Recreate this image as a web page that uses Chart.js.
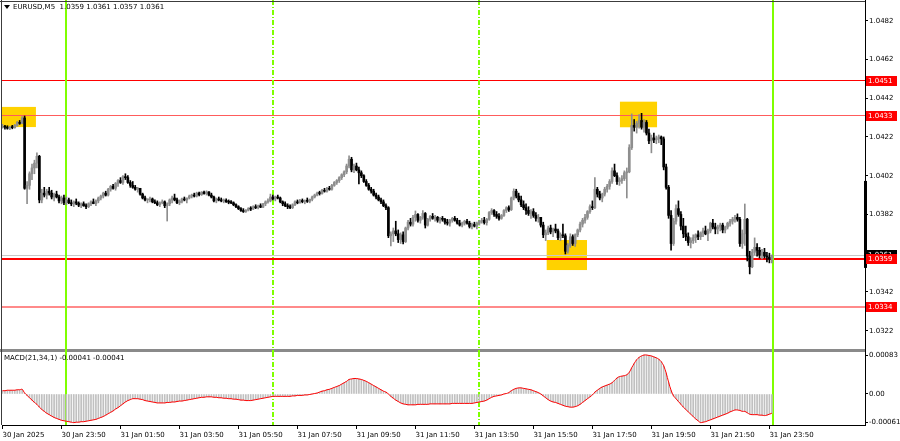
<!DOCTYPE html>
<html>
<head>
<meta charset="utf-8">
<script src="https://cdn.jsdelivr.net/npm/chart.js@4.4.1/dist/chart.umd.min.js"></script>
<style>
    body { margin: 0; background: #fff; }
    #wrap { position: relative; width: 900px; height: 441px; overflow: hidden; background: #fff; }
    #wrap canvas { position: absolute; left: 0; }
</style>
</head>
<body>
<div id="wrap">
    <canvas id="priceChart" width="900" height="352" style="top:0"></canvas>
    <canvas id="macdChart" width="900" height="97" style="top:344px"></canvas>
</div>
<script>
// ── Data (EURUSD M5, prices in pips above 1.0300) ─────────────────────────────

const firstOpen = 127;
const highs = [
    128.5, 128, 127.8, 127.5, 128, 128.5, 130, 130.5, 132.5, 132.8, 99, 104, 108, 110, 113.8, 112.5, 95, 96, 95, 96,
    94.5, 93, 94, 92, 91.5, 92, 91, 90.5, 89.5, 89, 90, 88.5, 88, 88.5, 87.5, 88, 89, 90, 89.5, 91,
    92, 93.5, 94, 95.5, 97, 97.5, 98.5, 100, 101, 102, 103, 102, 99.5, 99, 97, 96, 95.5, 93, 91.5, 90,
    91, 90.5, 89.5, 89, 88.5, 89.5, 89, 88, 90, 91.5, 92.5, 90.5, 89.5, 90.5, 91, 90.5, 92, 92.5, 93, 93.5,
    93.5, 93.8, 94, 94.2, 93.8, 93, 91.5, 90.5, 91, 90.5, 90, 90, 89.5, 89.2, 88.5, 87.5, 86.5, 85.5, 85, 84.5,
    85.5, 86, 86.5, 87, 86.8, 87.5, 87.8, 89, 90, 92.5, 92, 91.5, 92, 91, 89, 88.5, 87.5, 87, 87.5, 89,
    89.5, 89.8, 90, 89.5, 90.5, 90, 91.5, 92.5, 93.5, 94, 95, 95.5, 96, 96.5, 97.5, 99, 100, 101.5, 103, 104.5,
    108, 112.2, 111.5, 108, 108.5, 106.5, 104.5, 102.5, 100, 98, 96, 95, 93, 92, 90.5, 89.5, 87.5, 86, 73, 75,
    78.5, 74, 72.5, 73, 75.5, 79, 80, 81.5, 83.8, 82.5, 81, 84, 83, 80, 81.5, 82.5, 81.5, 81, 80.5, 81,
    80, 79.5, 79.5, 80.5, 81, 80, 79, 78, 79, 79.5, 78.5, 77.5, 78, 78, 79, 80, 80.5, 80, 83.5, 85,
    84.5, 83.5, 82.5, 82, 84.5, 86, 86.5, 91, 95.2, 95, 93, 91.5, 89, 87.5, 86, 84.5, 85, 83, 82, 80.5,
    78, 74, 76, 76.5, 75, 77, 74.5, 72.5, 77, 72, 67, 72, 71.5, 72, 74.5, 78, 80, 82, 84, 87,
    89, 101, 96, 94, 93, 96, 97.5, 100, 106, 108, 103.5, 101, 102, 104.5, 106, 118, 133.9, 131, 130, 133.5,
    134.2, 131, 130.5, 126, 123, 124, 122.5, 123, 122.5, 122, 108, 97, 84, 80, 87, 89, 83.5, 80, 76, 72.5,
    70, 71.5, 72, 73.5, 73, 75, 76, 74.5, 78, 79.5, 77.5, 76.5, 77.5, 77.5, 76, 78, 79.5, 80.5, 81.5, 82.3,
    80.5, 74, 87.4, 80, 63, 64, 69.9, 67, 65, 64, 64.5, 62.5, 62, 61,
];
const lows = [
    126.5, 126, 126, 125.8, 126.2, 126.5, 127.5, 128.5, 128.8, 95, 87.5, 95, 100, 103, 106, 88, 88, 91, 90, 92,
    90, 89, 90.5, 88, 87.5, 87, 87, 87.5, 86.5, 86, 87, 86, 85.5, 86.2, 85, 85.5, 86.5, 87.5, 86.5, 88,
    89.5, 90.5, 91.5, 91.5, 94, 95, 94.5, 96.5, 98, 97.5, 100, 98, 96, 95.5, 94.5, 93.5, 92, 90, 89, 88,
    88.5, 88, 87.5, 86.5, 86, 87.5, 85.5, 78.6, 86.5, 88, 89, 87.5, 87, 88, 89, 88, 90, 90.5, 91, 91,
    91.5, 91.8, 92.5, 92, 91.5, 90.5, 88.5, 88, 89, 88.5, 88, 88.2, 87.5, 87.5, 86.5, 85.5, 84.5, 83.5, 83, 83,
    83.8, 84, 84.5, 85, 84.8, 85.5, 85.5, 86.5, 87.8, 88.5, 89.5, 89, 90, 88, 86.5, 86, 85, 85, 85, 86.5,
    87.5, 87.8, 88, 87.5, 88.2, 88, 89, 90.5, 91.5, 92, 92.5, 93.5, 93.5, 94.5, 94.5, 96.5, 97.5, 98.5, 100, 101.5,
    103, 106, 104, 103.5, 104.5, 97.8, 101, 98.5, 96.5, 94.5, 93, 91.5, 90, 89, 87.5, 86, 84.5, 70, 65.7, 68,
    71, 67.5, 67, 66.8, 67.5, 74, 76, 76, 78.5, 78, 77.5, 79.5, 75, 76, 78.5, 79.5, 78.5, 78, 77.5, 78.5,
    77, 76.5, 76, 78, 78.5, 77, 76, 75.5, 76.5, 77, 75, 74.5, 75.5, 74.5, 76.5, 77.5, 77, 76.5, 79, 82,
    81, 80, 79, 79.5, 81, 83, 83.5, 84, 89.5, 90.5, 88.5, 86, 84.5, 82, 81.5, 80, 80.5, 78.5, 78, 75.5,
    70, 68.5, 71.5, 72, 70.5, 72.5, 69, 68.5, 70, 61.6, 62, 65, 66, 65.5, 70.5, 73, 75.5, 77.5, 79.5, 82.5,
    84.5, 85, 91, 89.5, 88.5, 91.5, 93.5, 95, 98, 101.5, 97.5, 97, 98, 99.5, 90.5, 103.5, 115.5, 125, 124, 126.5,
    126, 124.5, 123, 118.5, 113.8, 119, 118.5, 119, 118, 105, 95, 80, 63.5, 66, 77, 81, 74, 70, 68.5, 66,
    64.7, 67, 67.5, 69, 69, 70.5, 71.5, 68.5, 72.5, 74.5, 72, 72, 73.5, 72.5, 72.5, 74.5, 76, 77, 78, 78.5,
    65.5, 64.5, 66, 58, 51.3, 54.5, 61, 60.5, 59.5, 59, 59.5, 57.5, 57, 57,
];
const closes = [
    127.5, 127, 126.5, 127, 126.8, 128, 129.5, 129, 131.8, 95.5, 97, 103, 106, 108.5, 112, 89.5, 93, 92, 94, 93,
    91, 92.5, 91, 89, 90.5, 88, 89.5, 88, 87.5, 88.5, 87.8, 86.8, 87.5, 86.5, 86, 87.5, 88.5, 87.6, 89, 90.5,
    91.5, 93, 92, 95, 96.5, 95.5, 98, 99.5, 98.5, 101.5, 101, 98.5, 97, 96, 95, 95.5, 92.5, 90.5, 89.5, 89.5,
    90, 88.5, 88, 87, 88, 88.5, 86.5, 87.5, 89.5, 90.5, 89.5, 88, 88.8, 90, 89.5, 90.5, 91.5, 92, 91.5, 93,
    92.2, 93.5, 92.8, 93.6, 92, 91, 89, 90, 89.5, 89, 89.3, 88.5, 88.3, 88, 87, 86, 85, 84, 83.5, 84.2,
    85, 84.8, 86, 85.5, 86.5, 85.8, 87.5, 88.5, 89, 91, 90, 91, 90.5, 88.5, 87.5, 86.5, 86, 85.5, 87, 88.5,
    88, 89.2, 88.6, 89, 88.8, 89.8, 91, 92, 93, 92.8, 94.5, 94, 95.5, 95, 97, 98.5, 99.5, 101, 102.5, 104,
    107, 110.5, 105, 107, 105, 103.5, 102, 99, 97, 95, 94, 92, 91, 89.5, 88.5, 86.5, 85.5, 71, 72, 73.5,
    72, 69, 71.5, 68, 75, 78, 77, 80.5, 82, 79, 80.5, 82.5, 76.5, 79.5, 81, 80, 80.5, 79, 80, 79.5,
    78, 77.5, 79, 80, 79, 77.5, 76.5, 77.5, 78.5, 77.5, 75.8, 76.8, 76, 77.5, 78.5, 79, 77.8, 79.5, 83, 84,
    82, 81, 80, 81.5, 84, 85.5, 84.5, 90.5, 94, 91.5, 89.5, 87, 85.5, 84, 82.5, 83.5, 81.5, 80, 80.5, 76.5,
    71.5, 72.5, 75, 73, 74.5, 73.5, 70, 71.5, 71, 63, 66, 70.5, 67, 71.5, 74, 77, 79, 80.5, 83.5, 86,
    85.5, 95, 92.5, 90.5, 92.5, 95, 96.5, 99, 104.5, 102, 99, 99.5, 100.5, 103.5, 104, 116.5, 128, 127, 129, 130.5,
    127, 129.5, 124, 120, 121.5, 120.5, 121, 122, 121, 106.5, 96, 81.5, 67, 78.5, 85, 82, 76, 72, 70.5, 67.5,
    68.5, 70, 71.5, 70.5, 72.5, 73.5, 72, 73.5, 77.5, 75.5, 74.5, 75.5, 76.5, 74, 75.5, 77.5, 78.5, 79.5, 80.5, 79.5,
    67, 72, 79.5, 60.5, 55, 62.5, 65, 63.5, 61, 62.5, 60.5, 60, 59, 61,
];

// MACD(21,34,1) in units of 0.00001
const macdValues = [
    7, 7, 8, 8, 8, 8, 9, 9, 10, 2, -3, -8, -13, -18, -22, -28, -33, -37, -41, -44,
    -47, -50, -52, -54, -56, -57, -58, -59, -60, -61, -60, -60, -59, -59, -58, -57, -56, -55, -54, -52,
    -50, -48, -45, -42, -39, -36, -32, -29, -25, -21, -17, -14, -12, -10, -10, -10, -11, -12, -14, -15,
    -16, -17, -18, -19, -19, -19, -19, -18, -18, -17, -17, -16, -15, -15, -14, -13, -12, -11, -10, -9,
    -8, -7, -7, -6, -6, -6, -7, -7, -8, -8, -9, -9, -10, -10, -11, -11, -12, -13, -13, -14,
    -14, -14, -13, -12, -11, -10, -9, -8, -7, -6, -5, -5, -5, -5, -5, -5, -5, -5, -4, -4,
    -3, -3, -3, -2, -2, -1, 0, 1, 2, 4, 6, 7, 9, 10, 12, 14, 16, 18, 21, 24,
    27, 31, 32, 33, 33, 32, 31, 29, 27, 24, 21, 18, 15, 12, 9, 6, 4, 0, -5, -9,
    -13, -16, -19, -21, -22, -23, -23, -23, -23, -22, -22, -22, -22, -22, -21, -21, -21, -21, -21, -21,
    -21, -21, -21, -20, -20, -20, -20, -20, -20, -20, -20, -20, -19, -18, -17, -16, -15, -13, -10, -7,
    -5, -4, -3, -2, 0, 1, 3, 7, 10, 12, 13, 13, 12, 11, 10, 9, 7, 5, 3, 0,
    -4, -8, -12, -15, -17, -18, -20, -22, -24, -26, -27, -28, -28, -27, -25, -22, -18, -14, -10, -6,
    -2, 4, 8, 12, 15, 17, 19, 21, 24, 29, 34, 37, 38, 39, 41, 46, 56, 65, 73, 78,
    81, 83, 83, 82, 81, 79, 77, 74, 69, 60, 45, 25, 8, -4, -10, -16, -22, -28, -33, -38,
    -43, -48, -53, -57, -61, -60, -59, -57, -55, -53, -51, -49, -47, -45, -43, -41, -38, -36, -34, -34,
    -35, -37, -37, -40, -43, -44, -44, -44, -45, -45, -46, -45, -43, -41,
];

const tickBars = [0, 24, 48, 72, 96, 120, 144, 168, 192, 216, 240, 264, 288, 312];
const tickLabels = [
    '30 Jan 2025', '30 Jan 23:50', '31 Jan 01:50', '31 Jan 03:50', '31 Jan 05:50', '31 Jan 07:50', '31 Jan 09:50',
    '31 Jan 11:50', '31 Jan 13:50', '31 Jan 15:50', '31 Jan 17:50', '31 Jan 19:50', '31 Jan 21:50', '31 Jan 23:50',
];
const priceTicks = [1.0322, 1.0342, 1.0382, 1.0402, 1.0422, 1.0442, 1.0462, 1.0482];
const macdTicks = [83, 0, -61];

const levels = [1.0451, 1.0433, 1.0359, 1.0334];
const sessionBars = [26, 110, 194, 313.4];
const sessionDashed = [false, true, true, false];

const zoneStart = [-0.2, 251.2, 221.4];
const zoneEnd = [13.6, 266.3, 237.8];
const zoneHigh = [1.04375, 1.04402, 1.03688];
const zoneLow = [1.04271, 1.04270, 1.03533];

const rangeMark = [1.03544, 1.03993];

// ── Helpers ───────────────────────────────────────────────────────────────────

const px = (v) => 1.03 + v / 10000;
const opens = closes.map((c, i) => (i === 0 ? firstOpen : closes[i - 1]));
const lastBar = closes.length - 1;

const UP_COLOR = '#8e8e8e';
const DOWN_COLOR = '#000000';
const SESSION_COLOR = '#7fff00';
const FONT = { family: 'DejaVu Sans', size: 7 };
const FONT_CSS = '7px "DejaVu Sans"';
const X_MIN = -0.2;
const X_MAX = 350.9;
const MACD_TOP = 8; // macd canvas overlaps the separator by this much

const levelStyles = [
    { color: '#ff0000', width: 1 },
    { color: '#ff5c5c', width: 1 },
    { color: '#ff0000', width: 2 },
    { color: '#ff8a8a', width: 2 },
];

function noPad(scale) {
    scale.paddingTop = 0;
    scale.paddingBottom = 0;
    scale.paddingLeft = 0;
    scale.paddingRight = 0;
}

function drawSessionLines(chart, yTop, yBottom) {
    const { ctx, scales: { x } } = chart;
    ctx.save();
    ctx.fillStyle = SESSION_COLOR;
    sessionBars.forEach((b, i) => {
        const xp = Math.round(x.getPixelForValue(b)) - 1;
        if (!sessionDashed[i]) {
            ctx.fillRect(xp, yTop, 2, yBottom - yTop);
            return;
        }
        // dash-dot pattern
        for (let yy = yTop; yy < yBottom; yy += 10) {
            ctx.fillRect(xp, yy, 2, Math.min(5, yBottom - yy));
            if (yy + 7 < yBottom) ctx.fillRect(xp, yy + 7, 2, 1);
        }
    });
    ctx.restore();
}

function priceTag(ctx, right, yPix, text, bg) {
    const yc = Math.round(yPix);
    ctx.fillStyle = bg;
    ctx.fillRect(right + 1, yc - 5, 31, 10);
    ctx.fillStyle = '#ffffff';
    ctx.textBaseline = 'middle';
    ctx.textAlign = 'left';
    ctx.fillText(text, right + 3, yc);
}

// ── Price pane overlay ────────────────────────────────────────────────────────

const priceOverlay = {
    id: 'priceOverlay',
    beforeDatasetsDraw(chart) {
        const { ctx, chartArea: a, scales: { x, y } } = chart;
        ctx.save();

        // separator to MACD pane
        ctx.fillStyle = '#8a8a8a';
        ctx.fillRect(0, 349, a.right, 3);

        // highlighted zones
        ctx.fillStyle = '#ffd200';
        zoneStart.forEach((s, i) => {
            const x0 = Math.max(a.left, x.getPixelForValue(s));
            const x1 = x.getPixelForValue(zoneEnd[i]);
            const y0 = y.getPixelForValue(zoneHigh[i]);
            const y1 = y.getPixelForValue(zoneLow[i]);
            ctx.fillRect(x0, y0, x1 - x0, y1 - y0);
        });

        // bid line
        ctx.fillStyle = '#c8c8c8';
        const by = Math.round(y.getPixelForValue(px(closes[lastBar])));
        ctx.fillRect(a.left, by, a.right - a.left, 1);

        // horizontal levels
        levels.forEach((lv, i) => {
            const st = levelStyles[i];
            const yp = Math.round(y.getPixelForValue(lv) - st.width / 2);
            ctx.fillStyle = st.color;
            ctx.fillRect(a.left, yp, a.right - a.left, st.width);
        });
        ctx.restore();

        drawSessionLines(chart, 0, 352);
    },
    afterDraw(chart) {
        const { ctx, chartArea: a, scales: { y } } = chart;
        ctx.save();

        // frame
        ctx.fillStyle = '#3c3c3c';
        ctx.fillRect(0, 1, a.right, 1);
        ctx.fillRect(1, 0, 1, 352);
        ctx.fillStyle = '#000';
        ctx.fillRect(a.right, 0, 1, 352);

        // range marker on the price axis
        const r0 = y.getPixelForValue(rangeMark[1]);
        const r1 = y.getPixelForValue(rangeMark[0]);
        ctx.fillRect(a.right - 1, r0, 3, r1 - r0);

        // price tags
        ctx.font = FONT_CSS;
        priceTag(ctx, a.right, y.getPixelForValue(px(closes[lastBar])), px(closes[lastBar]).toFixed(4), '#000000');
        levels.forEach((lv) => priceTag(ctx, a.right, y.getPixelForValue(lv), lv.toFixed(4), '#ff0000'));

        // header
        ctx.fillStyle = '#000';
        ctx.beginPath();
        ctx.moveTo(4, 5);
        ctx.lineTo(10, 5);
        ctx.lineTo(7, 9);
        ctx.closePath();
        ctx.fill();
        ctx.textAlign = 'left';
        ctx.textBaseline = 'middle';
        const fmt = (v) => px(v).toFixed(4);
        ctx.fillText(`EURUSD,M5  ${fmt(opens[lastBar])} ${fmt(highs[lastBar])} ${fmt(lows[lastBar])} ${fmt(closes[lastBar])}`, 13, 7);
        ctx.restore();
    },
};

// ── MACD pane overlay ─────────────────────────────────────────────────────────

const macdOverlay = {
    id: 'macdOverlay',
    beforeDatasetsDraw(chart) {
        drawSessionLines(chart, MACD_TOP, chart.chartArea.bottom);
    },
    afterDraw(chart) {
        const { ctx, chartArea: a } = chart;
        ctx.save();
        ctx.fillStyle = '#3c3c3c';
        ctx.fillRect(1, MACD_TOP, 1, a.bottom - MACD_TOP);
        ctx.fillStyle = '#000';
        ctx.fillRect(a.right, MACD_TOP, 1, a.bottom + 1 - MACD_TOP);
        ctx.font = FONT_CSS;
        ctx.textAlign = 'left';
        ctx.textBaseline = 'middle';
        const last = (macdValues[macdValues.length - 1] / 100000).toFixed(5);
        ctx.fillText(`MACD(21,34,1) ${last} ${last}`, 4, MACD_TOP + 6);
        ctx.restore();
    },
};

// ── Charts ────────────────────────────────────────────────────────────────────

const candleColors = closes.map((c, i) => (c >= opens[i] ? UP_COLOR : DOWN_COLOR));

new Chart(document.getElementById('priceChart'), {
    type: 'bar',
    data: {
        datasets: [
            {
                label: 'body',
                data: closes.map((c, i) => ({ x: i, y: [px(opens[i]), px(c)] })),
                backgroundColor: candleColors,
                barThickness: 2,
                minBarLength: 1,
                grouped: false,
                order: 1,
            },
            {
                label: 'wick',
                data: highs.map((h, i) => ({ x: i, y: [px(lows[i]), px(h)] })),
                backgroundColor: candleColors,
                barThickness: 1,
                grouped: false,
                order: 2,
            },
        ],
    },
    options: {
        animation: false,
        responsive: false,
        devicePixelRatio: 1,
        events: [],
        layout: { padding: { left: 2, top: 2, right: 0, bottom: 4 } },
        plugins: { legend: { display: false }, tooltip: { enabled: false } },
        scales: {
            x: { type: 'linear', min: X_MIN, max: X_MAX, offset: false, display: false },
            y: {
                position: 'right',
                min: 1.031307,
                max: 1.049165,
                afterFit(scale) { scale.width = 35; noPad(scale); },
                afterBuildTicks(scale) { scale.ticks = priceTicks.map((v) => ({ value: v })); },
                ticks: { callback: (v) => v.toFixed(4), font: FONT, color: '#000', padding: 1 },
                grid: { drawOnChartArea: false, tickLength: 3, color: '#000' },
                border: { color: '#000' },
            },
        },
    },
    plugins: [priceOverlay],
});

new Chart(document.getElementById('macdChart'), {
    type: 'bar',
    data: {
        datasets: [
            {
                type: 'line',
                label: 'signal',
                data: macdValues.map((v, i) => ({ x: i, y: v })),
                borderColor: '#ff0000',
                borderWidth: 1,
                pointRadius: 0,
                tension: 0.3,
                order: 1,
            },
            {
                label: 'macd',
                data: macdValues.map((v, i) => ({ x: i, y: v })),
                backgroundColor: '#c0c0c0',
                barThickness: 1,
                grouped: false,
                order: 2,
            },
        ],
    },
    options: {
        animation: false,
        responsive: false,
        devicePixelRatio: 1,
        events: [],
        layout: { padding: { left: 2, top: MACD_TOP, right: 0, bottom: 0 } },
        plugins: { legend: { display: false }, tooltip: { enabled: false } },
        scales: {
            x: {
                type: 'linear',
                min: X_MIN,
                max: X_MAX,
                offset: false,
                afterFit(scale) { scale.height = 16; noPad(scale); },
                afterBuildTicks(scale) { scale.ticks = tickBars.map((v) => ({ value: v })); },
                ticks: {
                    callback: (v) => tickLabels[tickBars.indexOf(v)],
                    align: 'start',
                    autoSkip: false,
                    maxRotation: 0,
                    font: FONT,
                    color: '#000',
                    padding: 2,
                },
                grid: { drawOnChartArea: false, offset: false, tickLength: 4, color: '#000' },
                border: { color: '#000' },
            },
            y: {
                position: 'right',
                min: -66,
                max: 89.4,
                afterFit(scale) { scale.width = 35; noPad(scale); },
                afterBuildTicks(scale) { scale.ticks = macdTicks.map((v) => ({ value: v })); },
                ticks: {
                    callback: (v) => (v === 0 ? '0.00' : (v / 100000).toFixed(5)),
                    font: FONT,
                    color: '#000',
                    padding: 1,
                },
                grid: { drawOnChartArea: false, tickLength: 3, color: '#000' },
                border: { color: '#000' },
            },
        },
    },
    plugins: [macdOverlay],
});
</script>
</body>
</html>
